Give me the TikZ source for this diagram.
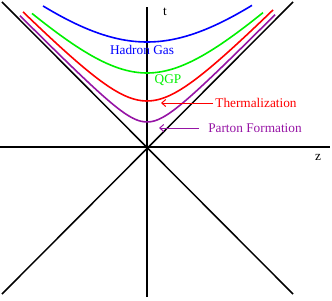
\documentclass[tikz,border=0pt]{standalone}
\usepackage{fontspec}
\setmainfont{Liberation Serif}
\usetikzlibrary{arrows.meta,positioning,calc}
\definecolor{hadronblue}{RGB}{0,0,255}
\definecolor{qgpgreen}{RGB}{0,240,0}
\definecolor{thermred}{RGB}{255,0,0}
\definecolor{partonpurple}{RGB}{150,20,165}

\begin{document}
\begin{tikzpicture}[
  x=10pt, y=10pt,
  font=\fontsize{13.3}{15}\selectfont,
  axis/.style={line width=1.5pt, black},
  curve/.style={line width=1.6pt, smooth},
  lab/.style={inner sep=2pt},
  arr/.style={-{Straight Barb[length=4pt, width=7pt]}, line width=1pt}
]
  \useasboundingbox (-14.7,-15.3) rectangle (18.5,14.7);

  % light cone and axes
  \coordinate (zl) at (-14.7,0);
  \coordinate (zr) at (18.3,0);
  \coordinate (tt) at (0,14.0);
  \coordinate (tb) at (0,-15.0);
  \coordinate (ul) at (-14.5,14.5);
  \coordinate (lr) at (14.6,-14.7);
  \coordinate (ur) at (14.6,14.5);
  \coordinate (ll) at (-14.5,-14.7);
  \draw[axis] (zl) -- (zr);
  \draw[axis] (tb) -- (tt);
  \draw[axis] (ul) -- (lr);
  \draw[axis] (ll) -- (ur);
  \node[lab] (tlab) at (1.8,13.5) {t};
  \node[lab] (zlab) at (17.1,-1.0) {z};

  % proper time hyperbolas
  \draw[curve, hadronblue] plot[domain=-10.4:10.5, samples=60] (\x, {sqrt(10.5*10.5+0.82*\x*\x)});
  \draw[curve, qgpgreen] plot[domain=-11.5:11.6, samples=60] (\x, {sqrt(7.4*7.4+0.935*\x*\x)});
  \draw[curve, thermred] plot[domain=-12.4:12.6, samples=60] (\x, {sqrt(4.6*4.6+1.05*\x*\x)});
  \draw[curve, partonpurple] plot[domain=-12.7:12.8, samples=60] (\x, {sqrt(2.5*2.5+1.03*\x*\x)});

  \node[lab, text=hadronblue] (hg) at (-0.5,9.7) {Hadron Gas};
  \node[lab, text=qgpgreen] (qgp) at (2.1,6.7) {QGP};
  \node[lab, text=thermred] (therm) at (10.9,4.4) {Thermalization};
  \node[lab, text=partonpurple] (parton) at (10.8,1.9) {Parton Formation};

  \coordinate (thermtip) at (1.4,4.2);
  \coordinate (partontip) at (1.2,1.8);
  \draw[arr, thermred] (therm.west) -- (therm.west -| thermtip);
  \draw[arr, partonpurple, shorten <=7pt] (parton.west) -- (parton.west -| partontip);
\end{tikzpicture}
\end{document}
